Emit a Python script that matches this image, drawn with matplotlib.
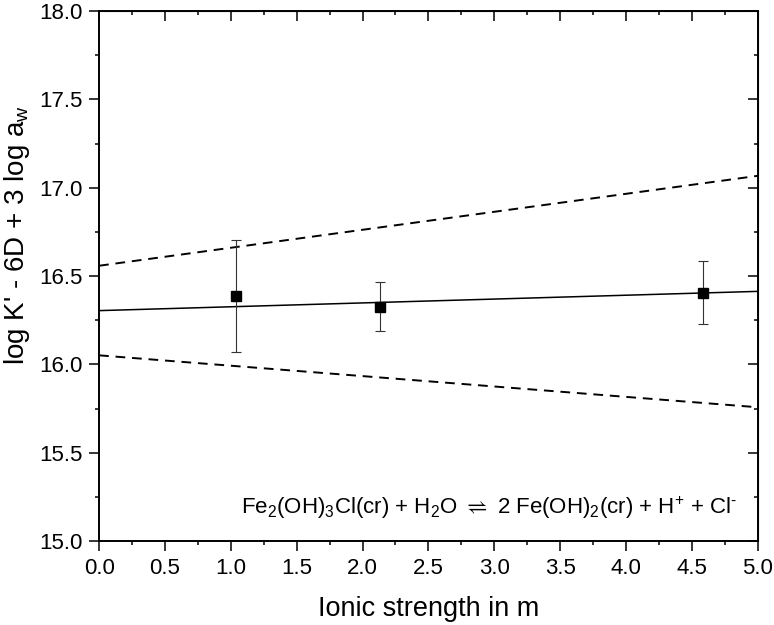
import numpy as np
import matplotlib
matplotlib.use("Agg")
import matplotlib.pyplot as plt
from matplotlib.ticker import FormatStrFormatter

plt.rcParams['font.family'] = ['Liberation Sans', 'DejaVu Sans']
plt.rcParams['mathtext.fontset'] = 'custom'
plt.rcParams['mathtext.rm'] = 'Liberation Sans'
plt.rcParams['mathtext.it'] = 'Liberation Sans:italic'
plt.rcParams['mathtext.fallback'] = 'stix'

# measured points
ionic = [1.04, 2.135, 4.585]
logk = [16.387, 16.327, 16.406]
err = [0.318, 0.141, 0.177]

# regression line and confidence band (end points)
x_fit = [0.0, 5.0]
y_fit = [16.304, 16.413]
y_upper = [16.558, 17.067]
y_lower = [16.051, 15.757]

fig = plt.figure(figsize=(7.74, 6.25), dpi=100)
ax = fig.add_axes([0.128, 0.1344, 0.851, 0.848])

ax.plot(x_fit, y_fit, color='black', lw=1.1)
ax.plot(x_fit, y_upper, color='black', lw=1.4, linestyle=(0, (5, 3.5)))
ax.plot(x_fit, y_lower, color='black', lw=1.4, linestyle=(0, (5, 3.5)))
ax.errorbar(ionic, logk, yerr=err, fmt='s', color='black', ms=7.7,
            ecolor='#333333', elinewidth=0.8, capsize=3.4, capthick=0.8, zorder=5)

xmaj = np.arange(0, 5.01, 0.5)
xmin = np.arange(0.25, 5, 0.5)
ymaj = np.arange(15, 18.01, 0.5)
ymin = np.arange(15.25, 18, 0.5)

ax.set_xlim(0, 5)
ax.set_ylim(15, 18)
ax.set_xticks(xmaj)
ax.set_yticks(ymaj)
ax.set_xticks(xmin, minor=True)
ax.set_yticks(ymin, minor=True)
ax.xaxis.set_major_formatter(FormatStrFormatter('%.1f'))
ax.yaxis.set_major_formatter(FormatStrFormatter('%.1f'))

for s in ax.spines.values():
    s.set_linewidth(1.4)
ax.tick_params(which='both', direction='out', width=1.1, labelsize=16, pad=5)
ax.tick_params(which='major', length=7)
ax.tick_params(which='minor', length=3)

# top and right: inward ticks, no labels
axt = ax.secondary_xaxis('top')
axt.set_xticks(xmaj)
axt.set_xticks(xmin, minor=True)
axt.tick_params(which='both', direction='in', width=1.1, labeltop=False)
axt.tick_params(which='major', length=7)
axt.tick_params(which='minor', length=3)
axr = ax.secondary_yaxis('right')
axr.set_yticks(ymaj)
axr.set_yticks(ymin, minor=True)
axr.tick_params(which='both', direction='in', width=1.1, labelright=False)
axr.tick_params(which='major', length=7)
axr.tick_params(which='minor', length=3)

ax.set_xlabel('Ionic strength in m', fontsize=19.5)
ax.xaxis.set_label_coords(0.5, -0.104)
ax.set_ylabel(r"log K' - 6D + 3 log a$_{\mathrm{w}}$", fontsize=20)
ax.yaxis.set_label_coords(-0.102, 0.577)

ax.text(0.968, 0.051,
        r'Fe$_2$(OH)$_3$Cl(cr) + H$_2$O ${\rightleftharpoons}$ 2 Fe(OH)$_2$(cr) + H$^{\text{+}}$ + Cl$^{\text{-}}$',
        transform=ax.transAxes, ha='right', va='baseline', fontsize=16)

fig.savefig('out.png', dpi=100)
